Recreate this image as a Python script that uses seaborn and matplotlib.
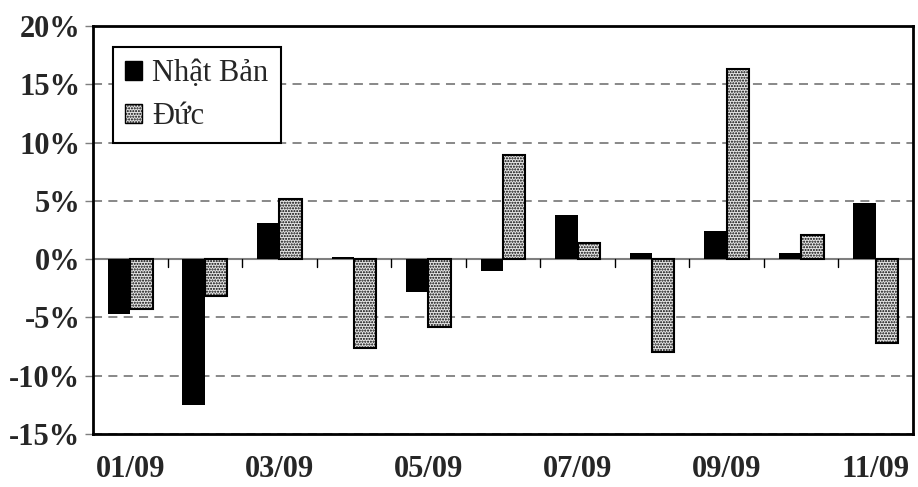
import pandas as pd
import matplotlib
matplotlib.use('Agg')
import matplotlib.pyplot as plt
import seaborn as sns
from matplotlib.patches import Patch
from matplotlib.ticker import FuncFormatter

months = ['01/09', '02/09', '03/09', '04/09', '05/09', '06/09',
          '07/09', '08/09', '09/09', '10/09', '11/09']
japan = [-4.7, -12.5, 3.1, 0.2, -2.8, -1.0, 3.8, 0.5, 2.4, 0.5, 4.8]
germany = [-4.3, -3.2, 5.2, -7.6, -5.8, 8.9, 1.4, -8.0, 16.3, 2.1, -7.2]
series_names = ['Nhật Bản', 'Đức']
y_ticks = [-15, -10, -5, 0, 5, 10, 15, 20]

df = pd.DataFrame({
    'month': months * 2,
    'value': japan + germany,
    'series': [series_names[0]] * len(months) + [series_names[1]] * len(months),
})

sns.set_style('white')
plt.rcParams['font.family'] = ['Liberation Serif', 'DejaVu Serif']
plt.rcParams['hatch.color'] = '#4d4d4d'
plt.rcParams['hatch.linewidth'] = 1.0

fig = plt.figure(figsize=(9.18, 4.87), dpi=100)
ax = fig.add_axes([93 / 918, 1 - 434 / 487, 820 / 918, 408 / 487])

sns.barplot(data=df, x='month', y='value', hue='series', order=months,
            hue_order=series_names, palette=['black', '#e6e6e6'],
            width=0.6, gap=0, saturation=1, ax=ax, zorder=3, legend=False)

for bar in ax.containers[0]:
    bar.set_edgecolor('black')
    bar.set_linewidth(0)
for bar in ax.containers[1]:
    bar.set_hatch('......')
    bar.set_edgecolor('black')
    bar.set_linewidth(1.5)

ax.set_ylim(-15, 20)
ax.set_xlim(-0.5, len(months) - 0.5)
ax.set_yticks(y_ticks)
ax.yaxis.set_major_formatter(FuncFormatter(lambda v, p: f'{v:.0f}%'))
ax.grid(axis='y', color='#7f7f7f', linestyle=(0, (5, 3.5)), linewidth=1.3, zorder=0)
ax.set_axisbelow(True)
ax.axhline(0, color='#7f7f7f', linewidth=1.5, zorder=2)

# boundary ticks on the zero line
for i in range(1, len(months)):
    ax.plot([i - 0.5, i - 0.5], [0, -0.7], color='black', linewidth=1, zorder=2)

ax.set_xticks(range(0, len(months), 2))
ax.set_xticklabels(months[::2])
ax.tick_params(axis='x', length=0, pad=15, labelsize=22)
ax.tick_params(axis='y', length=6, width=1, color='#7f7f7f', direction='out',
               labelsize=22, pad=3, left=True)
for lab in ax.get_xticklabels() + ax.get_yticklabels():
    lab.set_fontweight('bold')
ax.set_xlabel('')
ax.set_ylabel('')
for s in ax.spines.values():
    s.set_color('black')
    s.set_linewidth(2)
    s.set_visible(True)

handles = [Patch(facecolor='black', edgecolor='black', label=series_names[0]),
           Patch(facecolor='#e6e6e6', edgecolor='black', hatch='......',
                 label=series_names[1])]
leg = ax.legend(handles=handles, loc='upper left', bbox_to_anchor=(0.024, 0.948),
                fontsize=22, frameon=True, fancybox=False, framealpha=1,
                edgecolor='black', handlelength=0.55, handleheight=0.55,
                handletextpad=0.35, borderpad=0.4, labelspacing=0.45,
                borderaxespad=0)
leg.get_frame().set_linewidth(1.5)

fig.savefig('out.png', dpi=100)
